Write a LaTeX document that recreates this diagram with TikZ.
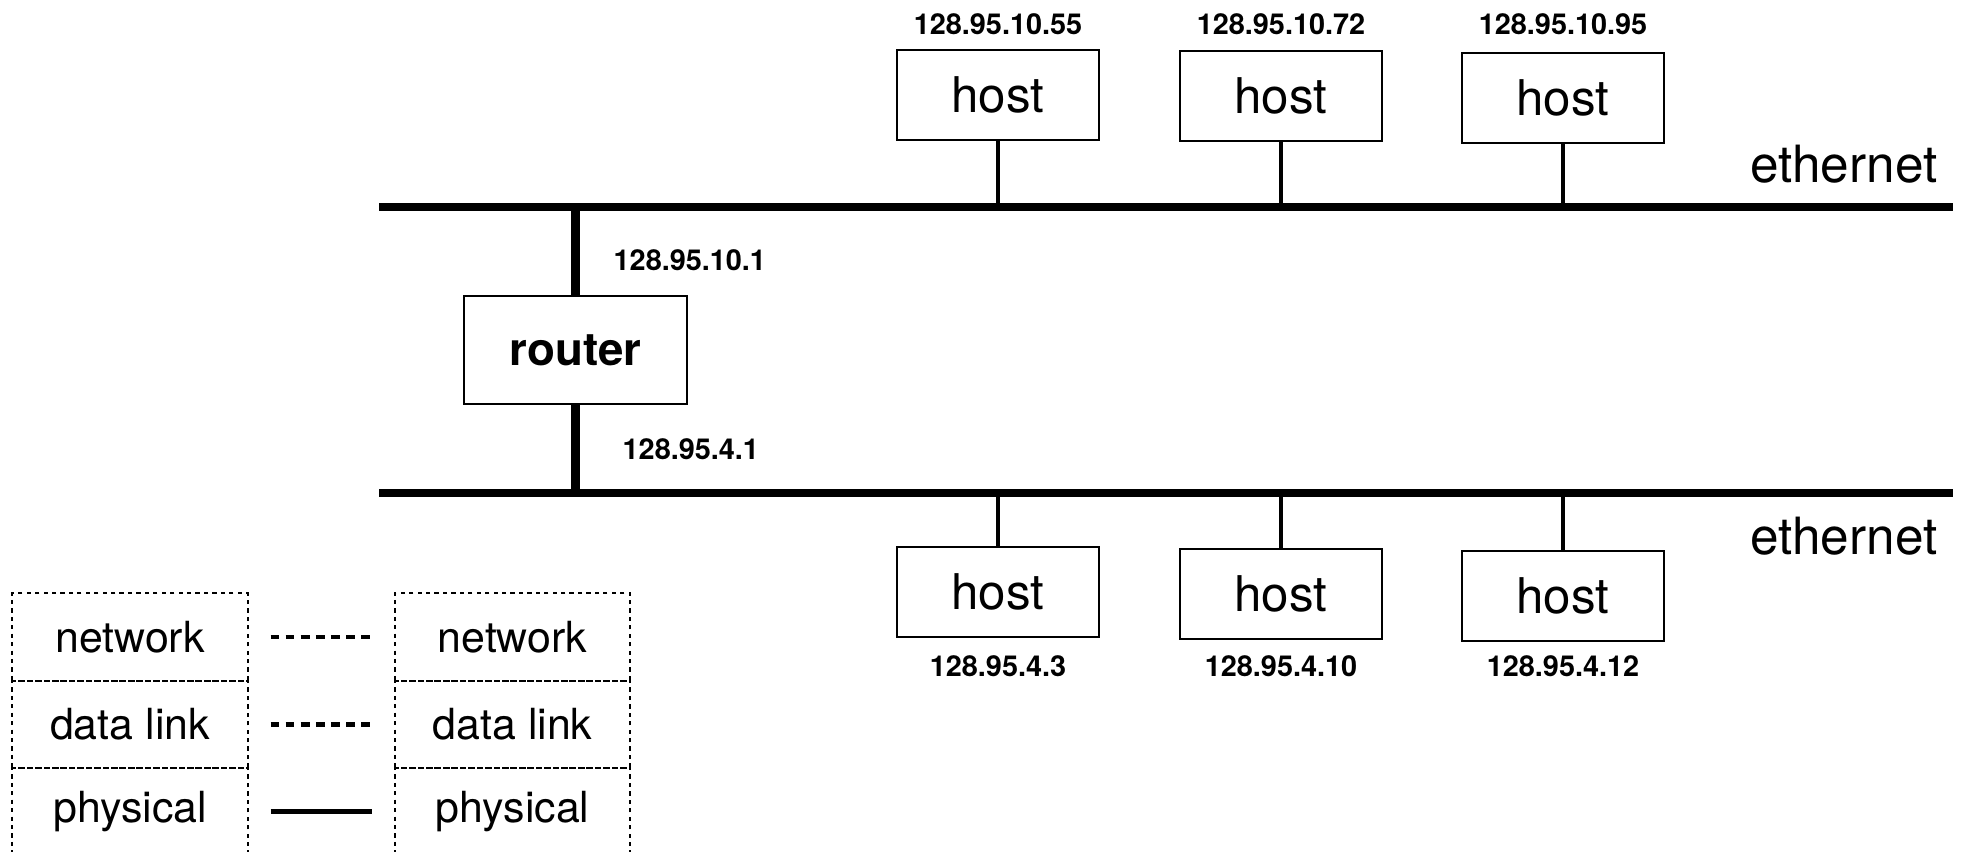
\documentclass[tikz,border=0pt]{standalone}
\usepackage{fontspec}
\setmainfont{TeX Gyre Heros}
\begin{document}
\begin{tikzpicture}[x=0.01cm,y=-0.01cm,
		host/.style={draw,line width=0.6pt,inner sep=0pt,minimum width=2.02cm,minimum height=0.9cm,font=\fontsize{14}{16}\selectfont},
		ip/.style={inner sep=0pt,font=\bfseries\fontsize{8.2}{10}\selectfont},
		layer/.style={draw,line width=0.5pt,dash pattern=on 1.2pt off 1.2pt,inner sep=0pt,minimum width=2.355cm,minimum height=0.875cm,font=\fontsize{12.2}{14}\selectfont},
		wire/.style={line width=2.5pt},
		drop/.style={line width=1.1pt},
		peer/.style={line width=1.3pt,shorten <=6.2pt,shorten >=6.2pt}]
	\useasboundingbox (0,0) rectangle (1967,852);
	\clip (0,0) rectangle (1967,852);

	\coordinate (topL) at (379,207);
	\coordinate (topR) at (1953,207);
	\coordinate (botL) at (379,493);
	\coordinate (botR) at (1953,493);
	\draw[wire] (topL) -- (topR);
	\draw[wire] (botL) -- (botR);
	\node[anchor=east,inner sep=0pt,font=\fontsize{14.6}{16}\selectfont] (etherA) at (1938,164) {ethernet};
	\node[anchor=east,inner sep=0pt,font=\fontsize{14.6}{16}\selectfont] (etherB) at (1938,536) {ethernet};

	\node[draw,line width=0.6pt,inner sep=0pt,minimum width=2.23cm,minimum height=1.08cm,font=\bfseries\fontsize{13}{15}\selectfont] (router) at (575.5,350) {router};
	\draw[line width=2.8pt] (router) -- (router |- topL);
	\draw[line width=2.8pt] (router) -- (router |- botL);
	\node[ip,anchor=west] (rtA) at (613,260) {128.95.10.1};
	\node[ip,anchor=west] (rtB) at (622,449) {128.95.4.1};

	\foreach \i/\x/\y/\a in {1/998/95/128.95.10.55, 2/1281/96/128.95.10.72, 3/1563/98/128.95.10.95} {
			\node[host] (t\i) at (\x,\y) {host};
			\node[ip] (tip\i) at (\x,24) {\a};
			\draw[drop] (t\i) -- (t\i |- topL);
		}
	\foreach \i/\x/\y/\a in {1/998/592/128.95.4.3, 2/1281/594/128.95.4.10, 3/1563/596/128.95.4.12} {
			\node[host] (b\i) at (\x,\y) {host};
			\node[ip] (bip\i) at (\x,666) {\a};
			\draw[drop] (b\i) -- (b\i |- botL);
		}

	% layers
	\foreach \n/\t/\y in {n/network/637, d/data link/724.5, p/physical/811.5} {
			\node[layer] (l\n) at (130,\y) {\t};
			\node[layer] (r\n) at (512.5,\y) {\t};
		}
	\draw[peer,dash pattern=on 2.5pt off 1.8pt] (ln) -- (rn);
	\draw[peer,dash pattern=on 2.5pt off 1.8pt] (ld) -- (rd);
	\draw[peer] (lp) -- (rp);
\end{tikzpicture}
\end{document}
